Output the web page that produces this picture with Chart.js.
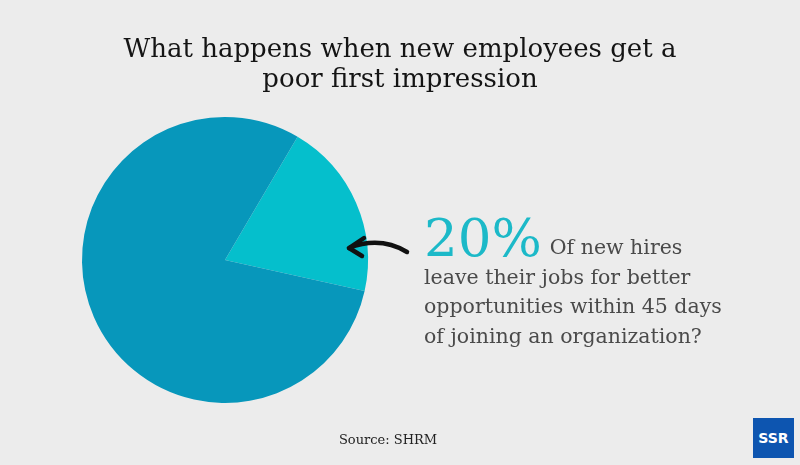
<!DOCTYPE html>
<html>
<head>
<meta charset="utf-8">
<script src="https://cdn.jsdelivr.net/npm/chart.js@4"></script>
<style>
  html, body { margin: 0; padding: 0; background: #ececec; }
  #wrap { position: relative; width: 800px; height: 465px; overflow: hidden; font-family: "DejaVu Serif", serif; }
  #c { position: absolute; left: 0; top: 0; }
  .title { position: absolute; left: 0; width: 800px; top: 33px; text-align: center; font-size: 26px; line-height: 30px; color: #141414; }
  .note { position: absolute; left: 424px; top: 218px; width: 370px; font-size: 20.5px; line-height: 29.5px; color: #4a4a4a; }
  .note .big { font-size: 53px; color: #1cb9c8; line-height: 40px; vertical-align: -2px; margin-right: 8px; }
  .source { position: absolute; left: 0; width: 776px; top: 432px; text-align: center; font-size: 13px; color: #222; }
  .logo { position: absolute; left: 753px; top: 418px; width: 41px; height: 40px; background: #0d55b0; color: #fff; font: bold 14px "DejaVu Sans", sans-serif; text-align: center; line-height: 40px; }
</style>
</head>
<body>
<div id="wrap">
  <canvas id="c" width="800" height="465"></canvas>
  <div class="title">What happens when new employees get a<br>poor first impression</div>
  <div class="note"><span class="big">20%</span>Of new hires<br>leave their jobs for better<br>opportunities within 45 days<br>of joining an organization?</div>
  <div class="source">Source: SHRM</div>
  <div class="logo">SSR</div>
</div>
<script>
// dati
const etichette = ["Leave within 45 days", "Stay"];
const valori = [20, 80];
const colori = ["#05bfcc", "#0797bb"];

// freccia disegnata a mano
const freccia = {
  id: "freccia",
  afterDraw(chart) {
    const ctx = chart.ctx;
    ctx.save();
    ctx.strokeStyle = "#111";
    ctx.lineWidth = 4.5;
    ctx.lineCap = "round";
    ctx.lineJoin = "round";
    ctx.beginPath();
    ctx.moveTo(407, 252);
    ctx.quadraticCurveTo(380, 236, 349, 248);
    ctx.stroke();
    ctx.beginPath();
    ctx.moveTo(364, 238);
    ctx.lineTo(349, 248);
    ctx.lineTo(362, 256);
    ctx.stroke();
    ctx.restore();
  }
};

new Chart(document.getElementById("c"), {
  type: "pie",
  data: { labels: etichette, datasets: [{ data: valori, backgroundColor: colori, borderWidth: 0 }] },
  options: {
    responsive: false,
    animation: false,
    rotation: 30.5,
    layout: { padding: { left: 82, right: 432, top: 117, bottom: 62 } },
    plugins: { legend: { display: false }, tooltip: { enabled: false } }
  },
  plugins: [freccia]
});
</script>
</body>
</html>
